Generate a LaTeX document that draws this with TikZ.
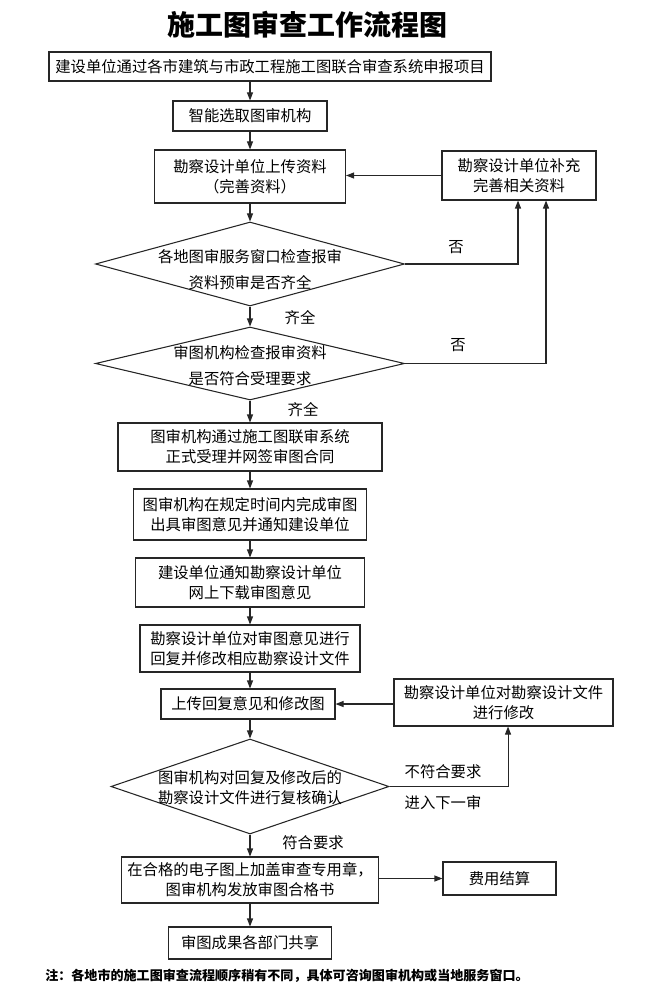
\documentclass[tikz,border=0pt]{standalone}
\usepackage{fontspec}
\setmainfont{Noto Sans CJK SC}
\usetikzlibrary{shapes.geometric,arrows.meta}
\begin{document}
\begin{tikzpicture}[x=0.75pt,y=-0.75pt,
  bx/.style 2 args={draw=black!85, line width=0.8pt, minimum width=#1*0.75pt, minimum height=#2*0.75pt, inner sep=0pt, align=center, font=\fontsize{11.5pt}{15pt}\selectfont},
  dm/.style 2 args={draw=black!85, line width=0.8pt, diamond, minimum width=#1*0.75pt, minimum height=#2*0.75pt, inner sep=0pt},
  tx/.style={align=center, inner sep=0pt, font=\fontsize{11.5pt}{15pt}\selectfont},
  lb/.style={inner sep=0pt, font=\fontsize{11.5pt}{15pt}\selectfont},
  ar/.style={draw=black!85, line width=0.8pt, -{Triangle[length=6pt,width=4.5pt]}},
  ln/.style={draw=black!85, line width=0.8pt}]
\useasboundingbox (0,0) rectangle (656,984);

\node[inner sep=0pt, font=\bfseries\fontsize{21pt}{24pt}\selectfont] (title) at (307,25) {施工图审查工作流程图};

\node[bx={442}{29}] (b1) at (270,66.5) {建设单位通过各市建筑与市政工程施工图联合审查系统申报项目};
\node[bx={154}{30}] (b2) at (250,116) {智能选取图审机构};
\node[bx={191}{53}] (b3) at (250,176.5) {勘察设计单位上传资料\\（完善资料）};
\node[bx={154}{49}] (r1) at (519,175.5) {勘察设计单位补充\\完善相关资料};

\node[dm={309}{84}] (d1) at (250,264) {};
\node[tx, font=\fontsize{11.5pt}{19.5pt}\selectfont] (t1) at (250,270) {各地图审服务窗口检查报审\\资料预审是否齐全};

\node[dm={309}{73}] (d2) at (250,363.5) {};
\node[tx, font=\fontsize{11.5pt}{19pt}\selectfont] (t2) at (250,365.5) {审图机构检查报审资料\\是否符合受理要求};

\node[bx={264}{48}] (b4) at (250,447) {图审机构通过施工图联审系统\\正式受理并网签审图合同};
\node[bx={233}{51}] (b5) at (250,514.5) {图审机构在规定时间内完成审图\\出具审图意见并通知建设单位};
\node[bx={229}{49}] (b6) at (250,582.5) {建设单位通知勘察设计单位\\网上下载审图意见};
\node[bx={220}{47}] (b7) at (250,648.5) {勘察设计单位对审图意见进行\\回复并修改相应勘察设计文件};
\node[bx={174}{30}] (b8) at (248,704) {上传回复意见和修改图};
\node[bx={219}{47}] (r2) at (503.5,702.5) {勘察设计单位对勘察设计文件\\进行修改};

\node[dm={278}{95}] (d3) at (250,786.5) {};
\node[tx] (t3) at (250,787.5) {图审机构对回复及修改后的\\勘察设计文件进行复核确认};

\node[bx={257}{46}] (b9) at (250,880) {在合格的电子图上加盖审查专用章，\\图审机构发放审图合格书};
\node[bx={113}{33}] (r3) at (499.5,878.5) {费用结算};
\node[bx={163}{32}] (b10) at (250,943) {审图成果各部门共享};

\node[anchor=west, inner sep=0pt, font=\bfseries\fontsize{9.8pt}{12pt}\selectfont] (note) at (45,976) {注：各地市的施工图审查流程顺序稍有不同，具体可咨询图审机构或当地服务窗口。};

% labels
\node[lb] (l1) at (456,247) {否};
\node[lb] (l2) at (458,345) {否};
\node[lb] (l3) at (300,318) {齐全};
\node[lb] (l4) at (303,410) {齐全};
\node[lb] (l5) at (443,772) {不符合要求};
\node[lb] (l6) at (443,803) {进入下一审};
\node[lb] (l7) at (313,843) {符合要求};

% main flow
\draw[ar] (b2.north |- b1.south) -- (b2.north);
\draw[ar] (b2.south) -- (b3.north);
\draw[ar] (b3.south) -- (d1.north);
\draw[ar] (d1.south) -- (d2.north);
\draw[ar] (d2.south) -- (b4.north);
\draw[ar] (b4.south) -- (b5.north);
\draw[ar] (b5.south) -- (b6.north);
\draw[ar] (b6.south) -- (b7.north);
\draw[ar] (b7.south) -- (b7.south |- b8.north);
\draw[ar] (d3.north |- b8.south) -- (d3.north);
\draw[ar] (d3.south) -- (b9.north);
\draw[ar] (b9.south) -- (b10.north);

% side loops
\draw[ar] (r1.west) -- (r1.west -| b3.east);
\draw[ar] (d1.east) -| ([xshift=-0.75pt]r1.south);
\draw[ar] (d2.east) -| ([xshift=20.25pt]r1.south);
\draw[ar] (r2.west |- b8.east) -- (b8.east);
\draw[ar] (d3.east) -| ([xshift=3.4pt]r2.south);
\draw[ar] (b9.east |- r3.west) -- (r3.west);
\end{tikzpicture}
\end{document}
